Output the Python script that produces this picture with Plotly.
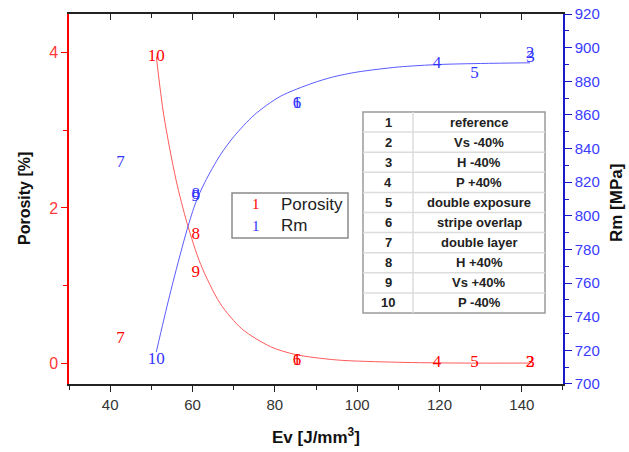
import plotly.graph_objects as go

# ---------------- data ----------------
ids = ["1", "2", "3", "4", "5", "6", "7", "8", "9", "10"]
table_labels = ["reference", "Vs -40%", "H -40%", "P +40%", "double exposure",
                "stripe overlap", "double layer", "H +40%", "Vs +40%", "P -40%"]
ev = [85.4, 142.0, 142.1, 119.4, 128.5, 85.4, 42.5, 60.8, 60.8, 51.2]
porosity = [0.03, 0.0, 0.0, 0.0, 0.0, 0.03, 0.31, 1.65, 1.17, 3.95]
rm = [866.8, 896.5, 894.0, 890.7, 884.7, 866.8, 831.5, 812.5, 811.5, 714.3]

# fitted curves
por_fit_x = [51.2, 53, 56, 58.7, 62, 66.7, 72, 79, 85, 95, 110, 125, 142]
por_fit_y = [3.95, 3.2, 2.36, 1.8, 1.27, 0.77, 0.44, 0.21, 0.11, 0.04, 0.01, 0.0, 0.0]
rm_fit_x = [51.2, 53, 55.3, 58.7, 60.8, 63, 66.7, 70, 75, 81.3, 89.3, 94, 100, 110, 120, 130, 142]
rm_fit_y = [719, 738, 761, 792, 808, 820, 836, 847, 860, 871, 879, 882.5, 885.5, 888.5, 890, 890.6, 891]

x_range = [29.99, 150.01]
por_range = [-0.27, 4.5]
rm_range = [699.98, 920.03]

W, H = 629, 452
L, R, T, B = 69, 563, 14, 384   # plot area in page pixels


def px(x):
    return (x - L) / (R - L)


def py(y):
    return (B - y) / (B - T)


RED = "#ff0000"
BLUE = "#3434ff"
SERIF = "Liberation Serif, Times New Roman, serif"
SANS = "Liberation Sans, Arial, sans-serif"

fig = go.Figure()

fig.add_trace(go.Scatter(x=por_fit_x, y=por_fit_y, mode="lines",
                         line=dict(color="#ff5a5a", width=1, shape="spline", smoothing=0.8),
                         showlegend=False, hoverinfo="skip"))
fig.add_trace(go.Scatter(x=rm_fit_x, y=rm_fit_y, mode="lines",
                         line=dict(color="#5a5aff", width=1, shape="spline", smoothing=0.8),
                         yaxis="y2", showlegend=False, hoverinfo="skip"))
fig.add_trace(go.Scatter(x=ev, y=porosity, mode="text", text=ids, textposition="middle center",
                         textfont=dict(family=SERIF, size=17, color=RED), showlegend=False))
fig.add_trace(go.Scatter(x=ev, y=rm, mode="text", text=ids, textposition="middle center",
                         textfont=dict(family=SERIF, size=17, color=BLUE), yaxis="y2", showlegend=False))
# invisible trace for top axis
fig.add_trace(go.Scatter(x=[x_range[0]], y=[por_range[0]], mode="markers", marker=dict(opacity=0),
                         xaxis="x2", showlegend=False, hoverinfo="skip"))

shapes = []
annotations = []

# legend box
shapes.append(dict(type="rect", xref="paper", yref="paper", x0=px(232), x1=px(348), y0=py(238), y1=py(193),
                   line=dict(color="#8a8a8a", width=1.5), fillcolor="white", layer="above"))
annotations.append(dict(xref="paper", yref="paper", x=px(256), y=py(204), text="1", showarrow=False,
                        font=dict(family=SERIF, size=15, color=RED), xanchor="center", yanchor="middle"))
annotations.append(dict(xref="paper", yref="paper", x=px(256), y=py(226), text="1", showarrow=False,
                        font=dict(family=SERIF, size=15, color=BLUE), xanchor="center", yanchor="middle"))
annotations.append(dict(xref="paper", yref="paper", x=px(279), y=py(204), text="Porosity", showarrow=False,
                        font=dict(family=SANS, size=17, color="#222"), xanchor="left", yanchor="middle"))
annotations.append(dict(xref="paper", yref="paper", x=px(279), y=py(226), text="Rm", showarrow=False,
                        font=dict(family=SANS, size=17, color="#222"), xanchor="left", yanchor="middle"))

# table
tl, tr, tt, tb, tc = 363, 545, 112, 313, 413
rh = (tb - tt) / len(ids)
shapes.append(dict(type="rect", xref="paper", yref="paper", x0=px(tl), x1=px(tr), y0=py(tb), y1=py(tt),
                   line=dict(color="#9a9a9a", width=1.5), fillcolor="white", layer="above"))
for i in range(1, len(ids)):
    yy = tt + i * rh
    shapes.append(dict(type="line", xref="paper", yref="paper", x0=px(tl), x1=px(tr), y0=py(yy), y1=py(yy),
                       line=dict(color="#dcdcdc", width=1.5), layer="above"))
shapes.append(dict(type="line", xref="paper", yref="paper", x0=px(tc), x1=px(tc), y0=py(tb), y1=py(tt),
                   line=dict(color="#dcdcdc", width=1.5), layer="above"))
for i, (n, lab) in enumerate(zip(ids, table_labels)):
    yc = tt + (i + 0.5) * rh
    annotations.append(dict(xref="paper", yref="paper", x=px((tl + tc) / 2), y=py(yc), text="<b>%s</b>" % n,
                            showarrow=False, font=dict(family=SANS, size=13, color="#222"),
                            xanchor="center", yanchor="middle"))
    annotations.append(dict(xref="paper", yref="paper", x=px((tc + tr) / 2), y=py(yc), text="<b>%s</b>" % lab,
                            showarrow=False, font=dict(family=SANS, size=13, color="#222"),
                            xanchor="center", yanchor="middle"))

# axis titles
annotations.append(dict(xref="paper", yref="paper", x=px(24), y=py(199), text="<b>Porosity [%]</b>", textangle=-90,
                        showarrow=False, font=dict(family=SANS, size=16, color="#111"),
                        xanchor="center", yanchor="middle"))
annotations.append(dict(xref="paper", yref="paper", x=px(616), y=py(203), text="<b>Rm [MPa]</b>", textangle=-90,
                        showarrow=False, font=dict(family=SANS, size=17, color="#111"),
                        xanchor="center", yanchor="middle"))
annotations.append(dict(xref="paper", yref="paper", x=px(316), y=py(436), text="<b>Ev [J/mm<sup>3</sup>]</b>",
                        showarrow=False, font=dict(family=SANS, size=17, color="#111"),
                        xanchor="center", yanchor="middle"))

fig.update_layout(
    width=W, height=H,
    margin=dict(l=L, r=W - R, t=T, b=H - B, pad=0, autoexpand=False),
    paper_bgcolor="white", plot_bgcolor="white",
    showlegend=False,
    shapes=shapes, annotations=annotations,
    xaxis=dict(range=x_range, tick0=40, dtick=20, ticks="outside", ticklen=6, tickwidth=1.2, tickcolor="#222",
               minor=dict(dtick=10, tick0=30, ticks="outside", ticklen=4, tickcolor="#222"),
               showline=True, linecolor="#222", linewidth=1.5, showgrid=False, zeroline=False,
               tickfont=dict(family=SANS, size=15, color="#333")),
    xaxis2=dict(range=x_range, overlaying="x", side="top", anchor="y", tick0=40, dtick=20, ticks="inside",
                ticklen=6, tickcolor="#222", showticklabels=False,
                minor=dict(dtick=10, tick0=30, ticks="inside", ticklen=4, tickcolor="#222"),
                showline=True, linecolor="#222", linewidth=1.5, showgrid=False, zeroline=False),
    yaxis=dict(range=por_range, tick0=0, dtick=2, ticks="outside", ticklen=6, tickwidth=1.2, tickcolor=RED,
               minor=dict(dtick=1, tick0=0, ticks="outside", ticklen=4, tickcolor=RED),
               showline=True, linecolor=RED, linewidth=1.5, showgrid=False, zeroline=False,
               tickfont=dict(family=SANS, size=16, color="#ff3a3a")),
    yaxis2=dict(range=rm_range, overlaying="y", side="right", anchor="x", tick0=700, dtick=20, ticks="outside",
                ticklen=7, tickwidth=1.2, tickcolor="#1a1acc", ticklabeloverflow="allow",
                minor=dict(dtick=10, tick0=700, ticks="outside", ticklen=4, tickcolor="#1a1acc"),
                showline=True, linecolor="#1a1acc", linewidth=1.5, showgrid=False, zeroline=False,
                tickfont=dict(family=SANS, size=15, color="#3a3aff")),
)

fig.write_html("out.html", config={"displayModeBar": False},
               post_script="document.body.style.margin='0';")
